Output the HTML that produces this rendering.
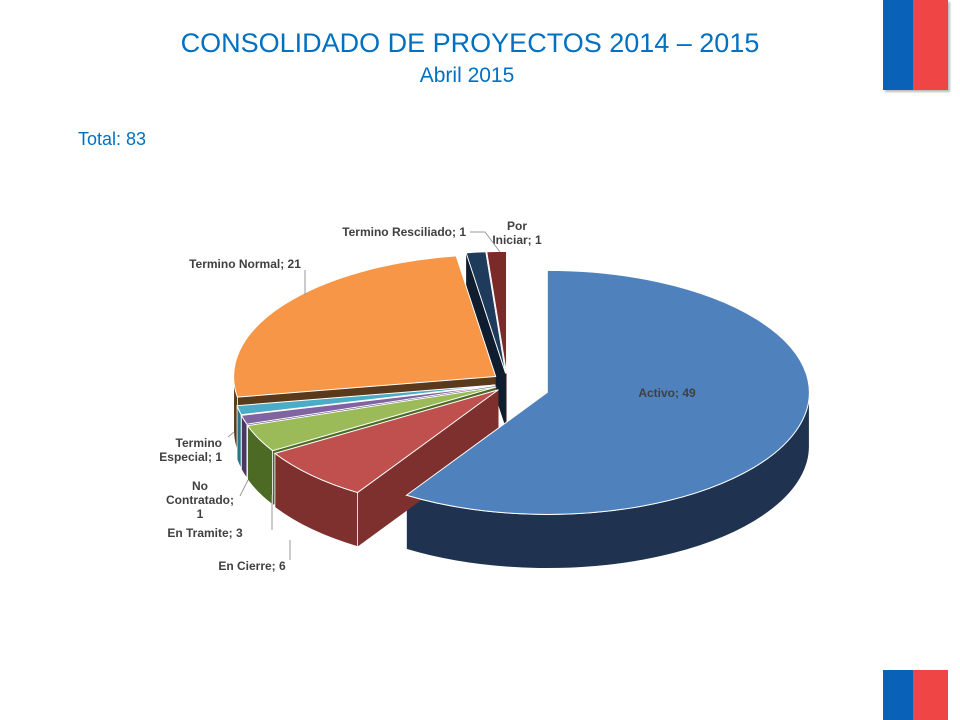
<!DOCTYPE html>
<html><head><meta charset="utf-8">
<style>
body{margin:0;width:960px;height:720px;background:#fff;overflow:hidden;position:relative;font-family:"Liberation Sans",sans-serif}
.t{position:absolute;color:#0070c0}
</style></head><body>
<div class="t" style="left:0;width:940px;text-align:center;top:28px;font-size:27px">CONSOLIDADO DE PROYECTOS 2014 – 2015</div>
<div class="t" style="left:0;width:934px;text-align:center;top:64px;font-size:21px">Abril 2015</div>
<div class="t" style="left:78px;top:129px;font-size:18px">Total: 83</div>
<div style="position:absolute;left:883px;top:0;width:65px;height:90px;box-shadow:2px 2px 2px #bbb">
<div style="position:absolute;left:0;top:0;width:30px;height:90px;background:#0a62b8"></div>
<div style="position:absolute;left:30px;top:0;width:35px;height:90px;background:#ef4545"></div></div>
<div style="position:absolute;left:883px;top:670px;width:65px;height:50px">
<div style="position:absolute;left:0;top:0;width:30px;height:50px;background:#0a62b8"></div>
<div style="position:absolute;left:30px;top:0;width:35px;height:50px;background:#ef4545"></div></div>
<svg id="pie" width="960" height="720" style="position:absolute;left:0;top:0"></svg>
<script>
const categories=["Activo","En Cierre","En Tramite","No Contratado","Termino Especial","Termino Normal","Termino Resciliado","Por Iniciar"];
const values=[49,6,3,1,1,21,1,1];
const colors=["#4f81bd","#c0504d","#9bbb59","#8064a2","#4bacc6","#f79646","#1f3b5c","#7b2a2a"];
const sideColors=["#1f3350","#7d302e","#4d6a25","#4a3766","#2b7487","#5a3a1a","#0f1d2e","#4a1616"];
const explode=[42,12,12,12,12,14,12,12];
const labelPos=[[667,397,"middle",["Activo; 49"]],[252,570,"middle",["En Cierre; 6"]],[205,537,"middle",["En Tramite; 3"]],[200,490,"middle",["No","Contratado;","1"]],[222,447,"end",["Termino","Especial; 1"]],[245,268,"middle",["Termino Normal; 21"]],[466,236,"end",["Termino Resciliado; 1"]],[517,230,"middle",["Por","Iniciar; 1"]]];
const svg=document.getElementById('pie');const NS="http://www.w3.org/2000/svg";
const cx=507,cy=383,rx=262,ry=122,depth=54;
const total=values.reduce((a,b)=>a+b,0);
function pt(c,a){return [c[0]+rx*Math.cos(a),c[1]+ry*Math.sin(a)];}
function mk(tag,at){const e=document.createElementNS(NS,tag);for(const k in at)e.setAttribute(k,at[k]);return e;}
let start=-Math.PI/2;const slices=[];
values.forEach((v,i)=>{const sweep=v/total*2*Math.PI;const a1=start,a2=start+sweep,m=(a1+a2)/2;
const c=[cx+explode[i]*Math.cos(m),cy+explode[i]*0.8*Math.sin(m)];slices.push({i,a1,a2,m,c});start=a2;});
const order=slices.slice().sort((a,b)=>Math.sin(a.m)-Math.sin(b.m));
const groups={};
order.forEach(s=>{const g=mk('g',{});


groups[s.i]=g;const c=s.c;
[s.a1,s.a2].forEach(a=>{const p=pt(c,a);
g.appendChild(mk('path',{d:`M${c[0]},${c[1]}L${p[0]},${p[1]}L${p[0]},${p[1]+depth}L${c[0]},${c[1]+depth}Z`,fill:sideColors[s.i]}));});
let b1=s.a1,b2=s.a2;const segs=[];
for(let k=-1;k<=1;k++){const lo=Math.max(b1,k*2*Math.PI),hi=Math.min(b2,k*2*Math.PI+Math.PI);if(hi>lo)segs.push([lo,hi]);}
segs.forEach(([lo,hi])=>{const p1=pt(c,lo),p2=pt(c,hi);
g.appendChild(mk('path',{d:`M${p1[0]},${p1[1]}A${rx},${ry} 0 0 1 ${p2[0]},${p2[1]}L${p2[0]},${p2[1]+depth}A${rx},${ry} 0 0 0 ${p1[0]},${p1[1]+depth}Z`,fill:sideColors[s.i],stroke:'#fff','stroke-width':0.8}));});
svg.appendChild(g);});
order.forEach(s=>{const c=s.c;const p1=pt(c,s.a1),p2=pt(c,s.a2);const large=(s.a2-s.a1)>Math.PI?1:0;
const top=mk('path',{d:`M${c[0]},${c[1]}L${p1[0]},${p1[1]}A${rx},${ry} 0 ${large} 1 ${p2[0]},${p2[1]}Z`,fill:colors[s.i],stroke:'#fff','stroke-width':1});


svg.appendChild(top);});
labelPos.forEach((l,i)=>{const t=mk('text',{x:l[0],y:l[1],'text-anchor':l[2],'font-size':12,'font-weight':'bold',fill:'#404040','font-family':'Liberation Sans, sans-serif'});


l[3].forEach((line,j)=>{const ts=mk('tspan',{x:l[0],dy:j?14:0});ts.textContent=line;t.appendChild(ts);});svg.appendChild(t);});
const leaders=[[290,560,290,540],[272,530,272,495],[240,496,248,480],[228,437,234,432],[305,270,305,295],[470,232,485,232,500,252]];
leaders.forEach(p=>{let d='M'+p[0]+','+p[1];for(let k=2;k<p.length;k+=2)d+='L'+p[k]+','+p[k+1];
const e=mk('path',{d,fill:'none',stroke:'#999','stroke-width':1});


svg.appendChild(e);});
</script>
</body></html>
